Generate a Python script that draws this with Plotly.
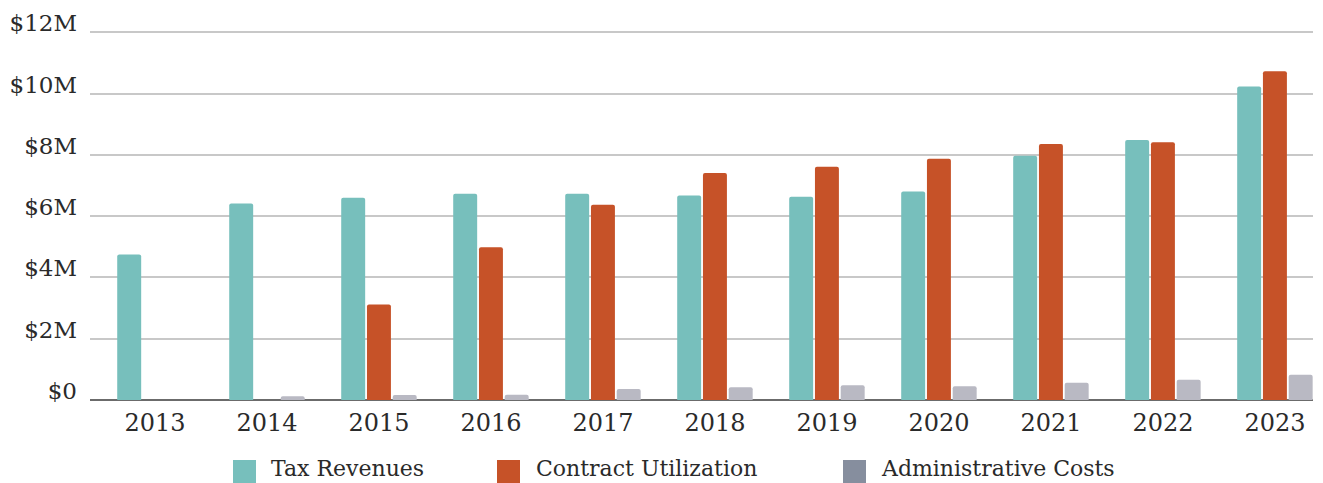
import plotly.graph_objects as go

years = ["2013", "2014", "2015", "2016", "2017", "2018", "2019", "2020", "2021", "2022", "2023"]
tax_revenues = [4.75, 6.41, 6.60, 6.73, 6.73, 6.67, 6.63, 6.80, 7.97, 8.48, 10.23]
contract_utilization = [0, 0, 3.12, 4.98, 6.37, 7.41, 7.61, 7.87, 8.35, 8.41, 10.73]
admin_costs = [0, 0.12, 0.16, 0.17, 0.36, 0.42, 0.48, 0.45, 0.56, 0.66, 0.82]

y_ticks = [0, 2, 4, 6, 8, 10, 12]
y_labels = ["$0", "$2M", "$4M", "$6M", "$8M", "$10M", "$12M"]

TEAL = "#77bfbc"
ORANGE = "#c65228"
GREY_BAR = "#b9b9c3"
GREY_KEY = "#868e9e"
FONT = "DejaVu Serif"
TEXT = "#2a2a2a"

# the page body adds an 8px margin, so the figure is a bit smaller than the window
OFF = 8
W, H = 1315, 475
L, R, T, B = 82, 10, 23, 83

fig = go.Figure()

for name, vals, col in [("Tax Revenues", tax_revenues, TEAL),
                        ("Contract Utilization", contract_utilization, ORANGE),
                        ("Administrative Costs", admin_costs, GREY_BAR)]:
    fig.add_trace(go.Bar(
        x=years, y=vals, name=name, showlegend=False,
        marker=dict(color=col, line=dict(width=0), cornerradius=2),
    ))


def px_x(p):
    # screen pixel -> paper fraction
    return (p - OFF - L) / (W - L - R)


def px_y(p):
    return (H - B - (p - OFF)) / (H - T - B)


# hand-drawn legend below the plot
legend_items = [("Tax Revenues", TEAL, 233, 270),
                ("Contract Utilization", ORANGE, 497, 535),
                ("Administrative Costs", GREY_KEY, 843, 880)]
for label, col, sq_left, txt_left in legend_items:
    fig.add_shape(type="rect", xref="paper", yref="paper",
                  x0=px_x(sq_left), x1=px_x(sq_left + 23),
                  y0=px_y(483), y1=px_y(460),
                  fillcolor=col, line=dict(width=0))
    fig.add_annotation(xref="paper", yref="paper", x=px_x(txt_left), y=px_y(468),
                       xanchor="left", yanchor="middle", showarrow=False,
                       borderpad=0,
                       text=label, font=dict(size=22, color=TEXT, family=FONT))

fig.update_layout(
    width=W, height=H,
    margin=dict(l=L, r=R, t=T, b=B, autoexpand=False),
    paper_bgcolor="white", plot_bgcolor="white",
    font=dict(family=FONT, color=TEXT, size=20),
    barmode="group", bargap=0.31, bargroupgap=0.07,
    showlegend=False,
    xaxis=dict(type="category", range=[-0.58, 10.34], showgrid=False,
               showline=False, ticks="", ticklabelstandoff=6,
               tickfont=dict(size=24)),
    yaxis=dict(range=[0, 12.04], tickvals=y_ticks, ticktext=y_labels,
               showgrid=True, gridcolor="#c8c8c8", gridwidth=2,
               zeroline=True, zerolinecolor="#6b6b6b", zerolinewidth=2,
               ticks="", ticklabelstandoff=12, ticklabelshift=-9,
               tickfont=dict(size=23)),
)

fig.write_html("out.html")
